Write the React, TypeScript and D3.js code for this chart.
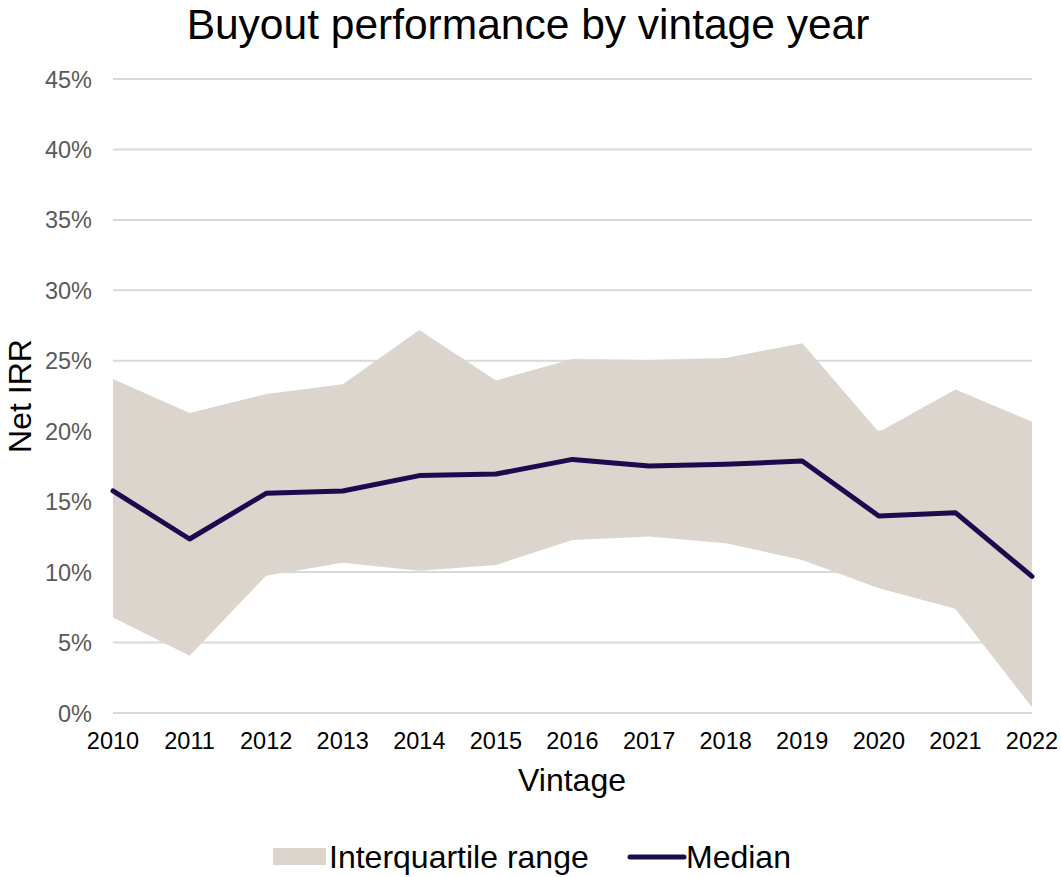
import React from "react";
import * as d3 from "d3";

const years = [2010, 2011, 2012, 2013, 2014, 2015, 2016, 2017, 2018, 2019, 2020, 2021, 2022];
const upperQuartile = [23.7, 21.3, 22.64, 23.33, 27.18, 23.6, 25.13, 25.05, 25.2, 26.25, 19.95, 22.97, 20.68];
const lowerQuartile = [6.77, 4.07, 9.75, 10.67, 10.1, 10.5, 12.28, 12.52, 12.05, 10.86, 8.85, 7.4, 0.4];
const median = [15.76, 12.35, 15.59, 15.76, 16.85, 16.96, 18.0, 17.53, 17.65, 17.89, 13.98, 14.22, 9.7];
const yTicks = [0, 5, 10, 15, 20, 25, 30, 35, 40, 45];

const W = 1061;
const H = 877;
const FONT = "'Liberation Sans', Arial, sans-serif";

export default function App() {
  const x = d3.scaleLinear().domain([2010, 2022]).range([113, 1032]);
  const y = d3.scaleLinear().domain([0, 45]).range([713, 79]);

  const area = d3
    .area<number>()
    .x((_, i) => x(years[i]))
    .y0((_, i) => y(lowerQuartile[i]))
    .y1((_, i) => y(upperQuartile[i]));
  const line = d3
    .line<number>()
    .x((_, i) => x(years[i]))
    .y((d) => y(d));

  return (
    <svg width={W} height={H} style={{ position: "absolute", left: 0, top: 0, background: "#fff" }} fontFamily={FONT}>
      <text x={528} y={39} textAnchor="middle" fontSize={42.5} fill="#000">
        Buyout performance by vintage year
      </text>
      {yTicks.map((t) => (
        <g key={t}>
          <line x1={113} x2={1032} y1={y(t)} y2={y(t)} stroke="#d9d9d9" strokeWidth={2} />
          <text x={92} y={y(t) + 8.5} textAnchor="end" fontSize={23.5} fill="#595959">
            {t}%
          </text>
        </g>
      ))}
      <path d={area(years.map(() => 0)) || ""} fill="#dbd5ce" />
      <path d={line(median) || ""} fill="none" stroke="#1a0b4f" strokeWidth={5} strokeLinejoin="round" strokeLinecap="round" />
      {years.map((yr) => (
        <text key={yr} x={x(yr)} y={749} textAnchor="middle" fontSize={23.5} fill="#000">
          {yr}
        </text>
      ))}
      <text x={572} y={791} textAnchor="middle" fontSize={32} fill="#000">
        Vintage
      </text>
      <text transform={`translate(31,396) rotate(-90)`} textAnchor="middle" fontSize={32} fill="#000">
        Net IRR
      </text>
      <rect x={273} y={848} width={53} height={17} fill="#dbd5ce" />
      <text x={329} y={868} fontSize={32} fill="#000">
        Interquartile range
      </text>
      <line x1={630} x2={684} y1={857} y2={857} stroke="#1a0b4f" strokeWidth={5} strokeLinecap="round" />
      <text x={686} y={868} fontSize={32} fill="#000">
        Median
      </text>
    </svg>
  );
}
